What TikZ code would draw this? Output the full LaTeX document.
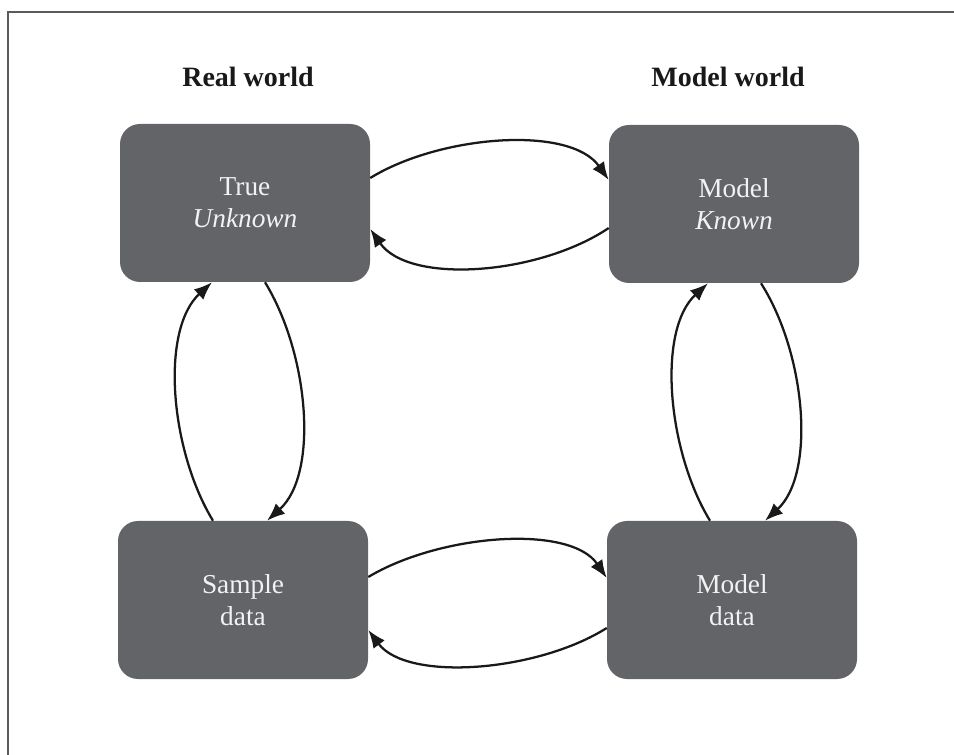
\documentclass[tikz,border=0pt]{standalone}
\usepackage{fontspec}
\setmainfont{Liberation Serif}
\usetikzlibrary{arrows.meta,calc}
\definecolor{boxgray}{HTML}{636468}
\definecolor{boxtext}{HTML}{F2F2F2}
\definecolor{framegray}{HTML}{5A5A5A}
\tikzset{
  box/.style={fill=boxgray, rounded corners=15pt, minimum width=187.5pt, minimum height=118.5pt,
    inner sep=0pt, align=center, text=boxtext, font=\fontsize{20.5}{24}\selectfont},
  header/.style={anchor=base, text=black!90, font=\fontsize{21}{25}\selectfont\bfseries},
  arr/.style={line width=1.7pt, draw=black!90, -{Latex[length=13.5pt,width=10.5pt]}},
  frameline/.style={draw=framegray, line width=1.5pt}
}
\begin{document}
\begin{tikzpicture}[x=0.75pt,y=-0.75pt]
\useasboundingbox (0,0) rectangle (954,755);
\draw[frameline] (8,760) -- (8,12) -- (960,12);
\node[header] (hr) at (248,87) {Real world};
\node[header] (hm) at (728,87) {Model world};
\node[box] (T) at (245,203) {True\\\textit{Unknown}};
\node[box] (M) at (734,204) {Model\\\textit{Known}};
\node[box] (S) at (243,600) {Sample\\data};
\node[box] (D) at (732,600) {Model\\data};
% top pair
\draw[arr] ($(T.east)+(0,-25)$) .. controls (440,135) and (570,125) .. ($(M.west)+(0,-24)$);
\draw[arr] ($(M.west)+(0,24)$) .. controls (539,275) and (409,285) .. ($(T.east)+(0,26)$);
% left pair
\draw[arr] ($(S.north)+(-30,0)$) .. controls (170,450) and (160,330) .. ($(T.south)+(-33,0)$);
\draw[arr] ($(T.south)+(20,0)$) .. controls (309,354) and (319,474) .. ($(S.north)+(24,0)$);
% right pair
\draw[arr] ($(D.north)+(-22,0)$) .. controls (667,450) and (657,330) .. ($(M.south)+(-26,0)$);
\draw[arr] ($(M.south)+(27,0)$) .. controls (806,354) and (816,474) .. ($(D.north)+(33,0)$);
% bottom pair
\draw[arr] ($(S.east)+(0,-23)$) .. controls (440,534) and (570,524) .. ($(D.west)+(0,-22)$);
\draw[arr] ($(D.west)+(0,28)$) .. controls (537,672) and (407,682) .. ($(S.east)+(0,30)$);
\end{tikzpicture}
\end{document}
